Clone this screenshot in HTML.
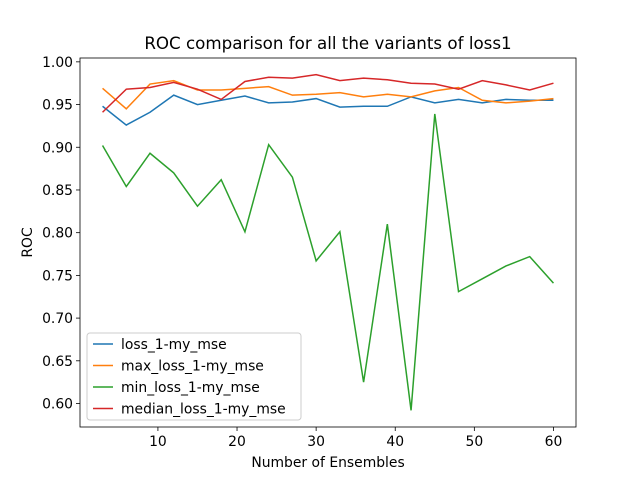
<!DOCTYPE html>
<html><head><meta charset="utf-8"><style>
body{margin:0;background:#fff;font-family:"Liberation Sans","DejaVu Sans",sans-serif}
</style></head><body>
<svg id="chart" width="640" height="480" xmlns="http://www.w3.org/2000/svg" font-family="DejaVu Sans, Liberation Sans, sans-serif"></svg>
<script>
const xValues=[3,6,9,12,15,18,21,24,27,30,33,36,39,42,45,48,51,54,57,60];
const lossSeries=[0.948,0.926,0.941,0.961,0.950,0.955,0.960,0.952,0.953,0.957,0.947,0.948,0.948,0.959,0.952,0.956,0.952,0.956,0.955,0.955];
const maxSeries=[0.969,0.945,0.974,0.978,0.967,0.967,0.969,0.971,0.961,0.962,0.964,0.959,0.962,0.959,0.966,0.970,0.955,0.952,0.954,0.957];
const minSeries=[0.902,0.854,0.893,0.870,0.831,0.862,0.801,0.903,0.865,0.767,0.801,0.625,0.810,0.592,0.939,0.731,0.746,0.761,0.772,0.741];
const medianSeries=[0.941,0.968,0.970,0.976,0.968,0.956,0.977,0.982,0.981,0.985,0.978,0.981,0.979,0.975,0.974,0.968,0.978,0.973,0.967,0.975];
const seriesNames=["loss_1-my_mse","max_loss_1-my_mse","min_loss_1-my_mse","median_loss_1-my_mse"];
const xTicks=[10,20,30,40,50,60];
const yTicks=[0.60,0.65,0.70,0.75,0.80,0.85,0.90,0.95,1.00];

const L=80,R=576,T=58,B=427;
const xmin=0.15,xmax=62.85,ymin=0.5725,ymax=1.0045;
const sx=v=>L+(v-xmin)/(xmax-xmin)*(R-L);
const sy=v=>B-(v-ymin)/(ymax-ymin)*(B-T);
const svg=document.getElementById('chart');
const NS="http://www.w3.org/2000/svg";
function mk(tag,attrs,parent){const e=document.createElementNS(NS,tag);for(const k in attrs)e.setAttribute(k,attrs[k]);(parent||svg).appendChild(e);return e;}

const t=mk('text',{x:328,y:49,'text-anchor':'middle','font-size':16.7,fill:'#000'});t.textContent='ROC comparison for all the variants of loss1';



xTicks.forEach(v=>{
  mk('line',{x1:sx(v),x2:sx(v),y1:B,y2:B+4,stroke:'#000','stroke-width':0.8});
  const e=mk('text',{x:sx(v),y:B+19,'text-anchor':'middle','font-size':13.9,fill:'#000'});e.textContent=v;
  
  
});
yTicks.forEach(v=>{
  mk('line',{x1:L-4,x2:L,y1:sy(v),y2:sy(v),stroke:'#000','stroke-width':0.8});
  const e=mk('text',{x:L-7,y:sy(v)+5,'text-anchor':'end','font-size':13.9,fill:'#000'});e.textContent=v.toFixed(2);
  
  
});
const xt=mk('text',{x:328,y:467,'text-anchor':'middle','font-size':13.9,fill:'#000'});xt.textContent='Number of Ensembles';


const yt=mk('text',{x:0,y:0,'text-anchor':'middle','font-size':13.9,fill:'#000',transform:`translate(32,${(T+B)/2}) rotate(-90)`});yt.textContent='ROC';



const colors=['#1f77b4','#ff7f0e','#2ca02c','#d62728'];
[lossSeries,maxSeries,minSeries,medianSeries].forEach((s,i)=>{
  const p=mk('polyline',{points:s.map((v,j)=>sx(xValues[j])+','+sy(v)).join(' '),fill:'none',stroke:colors[i],'stroke-width':1.5});
  
  
});
const fr=mk('rect',{x:L,y:T,width:R-L,height:B-T,fill:'none',stroke:'#000','stroke-width':0.8});



const lg=mk('g',{});


mk('rect',{x:87,y:333,width:214,height:87,rx:3,fill:'#fff','fill-opacity':0.8,stroke:'#ccc'},lg);
seriesNames.forEach((n,i)=>{
  const y=344+i*21.5;
  const g=mk('g',{},lg);
  
  
  mk('line',{x1:93,x2:113,y1:y,y2:y,stroke:colors[i],'stroke-width':1.5},g);
  const e=mk('text',{x:121,y:y+5,'font-size':13.9,fill:'#000'},g);e.textContent=n;
});
</script>
</body></html>
